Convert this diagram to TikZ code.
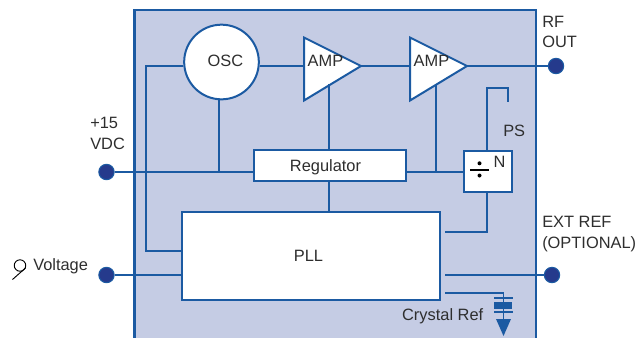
\documentclass[tikz,border=0pt]{standalone}
\usepackage{fontspec}
\setmainfont{Liberation Sans}
\definecolor{wire}{HTML}{1B5AA2}
\definecolor{panel}{HTML}{C5CCE4}
\definecolor{dotc}{HTML}{253A8C}
\definecolor{ink}{HTML}{2E2E2E}
\tikzset{
  wireline/.style={draw=wire,line width=1.5pt},
  thinwire/.style={draw=wire,line width=1.2pt},
  blockbox/.style={draw=wire,line width=1.5pt,fill=white,inner sep=0pt},
  terminal/.style={circle,draw=wire,line width=0.8pt,fill=dotc,minimum size=11.5pt,inner sep=0pt},
  lbl/.style={text=ink,inner sep=0pt,font=\fontsize{12.3}{16}\selectfont,align=left},
  point/.style={inner sep=0pt,outer sep=0pt,minimum size=0pt}
}
\begin{document}
\begin{tikzpicture}[x=0.75pt,y=-0.75pt]
\useasboundingbox (0,0) rectangle (639,337);
\begin{scope}
\clip (0,0) rectangle (639,337);
\fill[panel] (134.5,10) rectangle (536,345);
\draw[draw=wire,line width=2pt] (134.5,345) -- (134.5,10) -- (536,10) -- (536,345);
\end{scope}
% blocks
\node[blockbox,circle,minimum size=56pt] (osc) at (221.5,62) {};
\node[lbl] (osct) at (225.5,61) {OSC};
\node[blockbox,minimum width=114pt,minimum height=23pt] (reg) at (330,165.5) {};
\node[lbl] (regt) at (325.5,167) {Regulator};
\node[blockbox,minimum width=194pt,minimum height=66pt] (pll) at (311,256) {};
\node[lbl] (pllt) at (308.5,256) {PLL};
\node[blockbox,minimum width=36.5pt,minimum height=31pt] (div) at (488,171.3) {};
\coordinate (a1a) at (304,37.5); \coordinate (a1b) at (304,100.5); \coordinate (a1c) at (361,66);
\coordinate (a2a) at (410,37.5); \coordinate (a2b) at (410,100.5); \coordinate (a2c) at (467,66);
\draw[wireline,fill=white,line join=miter] (a1a) -- (a1c) -- (a1b) -- cycle;
\draw[wireline,fill=white,line join=miter] (a2a) -- (a2c) -- (a2b) -- cycle;
\node[lbl] (amp1) at (325.5,61) {AMP};
\node[lbl] (amp2) at (431.5,61) {AMP};
% divider glyph
\draw[black,line width=1.6pt] (470,170.3) -- (489,170.3);
\fill[black] (479.5,163.3) circle (1.5pt);
\fill[black] (479.5,175.5) circle (1.5pt);
\node[lbl] (nl) at (499.5,161.5) {N};
% terminals
\node[terminal] (vdc) at (106.5,172) {};
\node[terminal] (volt) at (106.5,275) {};
\node[terminal] (rf) at (556,66) {};
\node[terminal] (ext) at (552,275) {};
% free coordinates
\coordinate (l1) at (146,66);
\coordinate (l2) at (146,251);
\coordinate (j1) at (219,172);
\coordinate (a1d) at (329,84);
\coordinate (a2d) at (436,85);
\coordinate (j2) at (436,172);
\coordinate (ps1) at (487,87.5);
\coordinate (ps2) at (507.5,87.5);
\coordinate (ps3) at (507.5,102);
\coordinate (d1) at (487,232);
\coordinate (d2) at (445,232);
\coordinate (e1) at (445,275);
\coordinate (c1) at (445,293);
\coordinate (c2) at (503.5,293);
\coordinate (c3) at (503.5,320);
% connectors
\draw[wireline] (osc.west |- l1) -- (l1) -- (l2) -- (pll.west |- l2);
\draw[thinwire] (vdc) -- (reg.west |- vdc);
\draw[thinwire] (volt) -- (pll.west |- volt);
\draw[wireline] (219,99.5) -- (j1);
\draw[wireline] (osc.east |- a1c) -- (304,66);
\draw[wireline] (a1c) -- (410,66);
\draw[wireline] (a2c) -- (rf);
\draw[wireline] (a1d) -- (329,150);
\draw[wireline] (reg.south -| 329,0) -- (329,212);
\draw[thinwire] (a2d) -- (j2);
\draw[wireline] (reg.east |- j2) -- (div.west |- j2);
\draw[wireline] (div.north -| ps1) -- (ps1) -- (ps2) -- (ps3);
\draw[wireline] (div.south -| d1) -- (d1) -- (d2);
\draw[thinwire] (e1) -- (ext);
\draw[thinwire] (c1) -- (c2) -- (c3);
% capacitor and ground
\draw[wire,line width=1.2pt] (494,298) -- (513,298);
\fill[wire] (494,301.7) rectangle (512,309);
\draw[wire,line width=1.2pt] (494,312) -- (513,312);
\fill[wire] (496,319) -- (511,319) -- (503.5,336) -- cycle;
% labels
\node[lbl,anchor=west] (rfl) at (542,22) {RF};
\node[lbl,anchor=west] (rfl2) at (542,42) {OUT};
\node[lbl,anchor=west] (v1) at (90,123) {+15};
\node[lbl,anchor=west] (v2) at (90,144) {VDC};
\node[lbl,anchor=west] (psl) at (503,131) {PS};
\node[lbl,anchor=west] (ex1) at (542,222) {EXT REF};
\node[lbl,anchor=west] (ex2) at (542,244) {(OPTIONAL)};
\node[lbl,anchor=east] (cr) at (483.5,316) {Crystal Ref};
\node[lbl,anchor=west] (vl) at (33,266) {Voltage};
% probe
\coordinate (pc) at (20,265.5);
\draw[black,line width=0.7pt] (pc) circle (4.3pt);
\draw[black,line width=0.7pt] (12.5,279.5) -- (25.5,268);
\end{tikzpicture}
\end{document}
